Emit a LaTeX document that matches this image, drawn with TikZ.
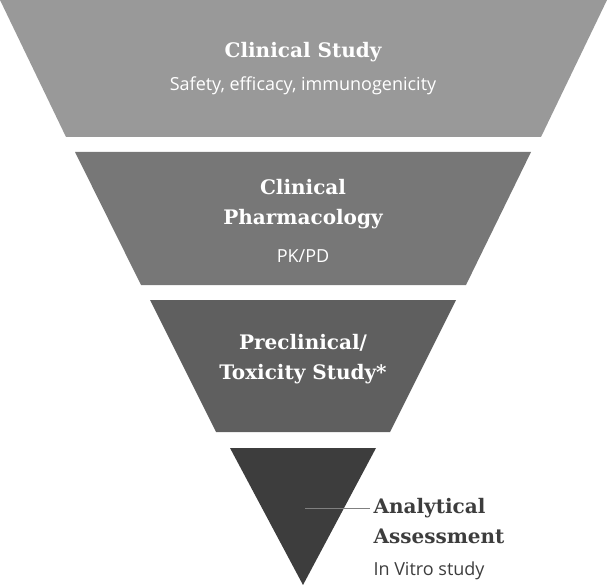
\documentclass[tikz,border=0pt]{standalone}
\usepackage{fontspec}
\setmainfont{Open Sans}
\newfontfamily\slabfont{DejaVu Serif}
\tikzset{
  layer/.style={draw=none},
  title/.style={font=\slabfont\bfseries\fontsize{20}{30}\selectfont, text=white, align=center},
  subtitle/.style={font=\fontsize{18}{22}\selectfont, text=white, align=center}
}
\begin{document}
\begin{tikzpicture}[x=1pt,y=-1pt]
 \useasboundingbox (0,0) rectangle (607,585);
 % layers of the funnel
 \fill[color={rgb,255:red,153;green,153;blue,153}] (0,0) -- (607,0) -- (541,137) -- (66,137) -- cycle;
 \fill[color={rgb,255:red,119;green,119;blue,119}] (75,152) -- (531,152) -- (466,285) -- (141,285) -- cycle;
 \fill[color={rgb,255:red,95;green,95;blue,95}] (150,300) -- (456,300) -- (390,432) -- (216,432) -- cycle;
 \fill[color={rgb,255:red,61;green,61;blue,61}] (230,448) -- (376,448) -- (303,585) -- cycle;

 \node[title] (study) at (303,52) {Clinical Study};
 \node[subtitle] (safety) at (303,86) {Safety, efficacy, immunogenicity};
 \node[title] (pharma) at (303,204) {Clinical\\Pharmacology};
 \node[subtitle] (pkpd) at (303,256) {PK/PD};
 \node[title] (precl) at (303,359) {Preclinical/\\Toxicity Study*};

 \coordinate (tip) at (305,508);
 \node[title, text={rgb,255:red,61;green,61;blue,61}, align=left, anchor=west] (anal) at (370,521) {Analytical\\Assessment};
 \node[subtitle, text={rgb,255:red,61;green,61;blue,61}, anchor=west] (vitro) at (370,571) {In Vitro study};
 \draw[gray, line width=1pt] (tip) -- (tip -| anal.west);
\end{tikzpicture}
\end{document}
